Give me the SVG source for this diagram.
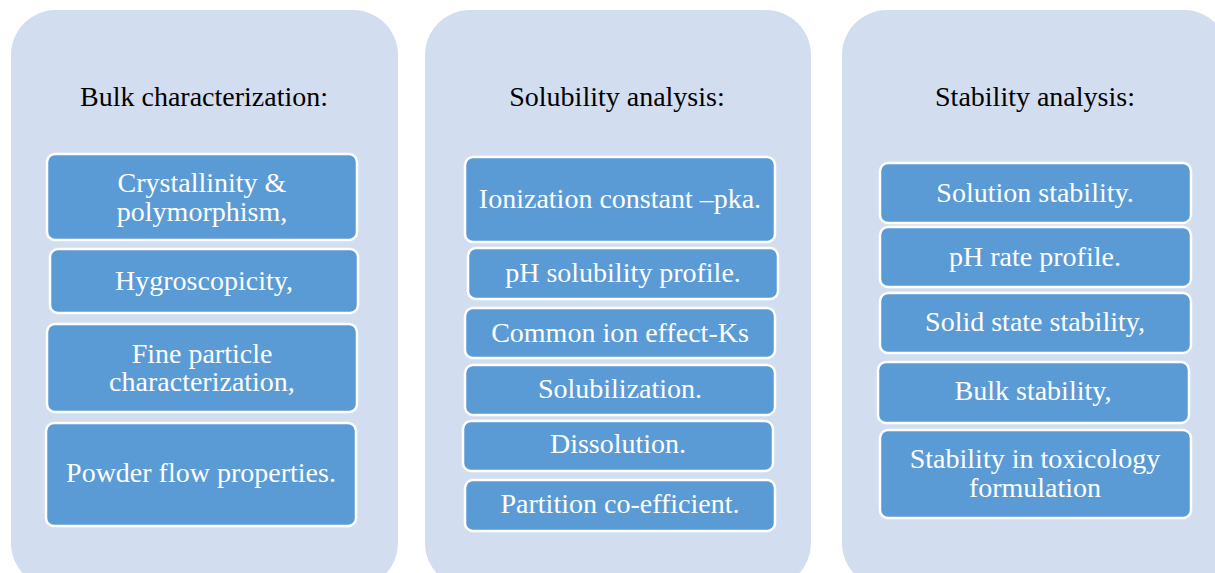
<svg xmlns="http://www.w3.org/2000/svg" width="1215" height="573" viewBox="0 0 1215 573">
<style>
.panel{fill:#D2DEEF;}
.box{fill:#5B9BD5;stroke:#FFFFFF;stroke-width:2.5;}
.title{font-family:"Liberation Serif","Times New Roman",serif;font-size:28px;fill:#000000;text-anchor:middle;}
.lbl{font-family:"Liberation Serif","Times New Roman",serif;font-size:28px;fill:#FFFFFF;text-anchor:middle;}
</style>
<rect width="1215" height="573" fill="#FFFFFF"/>
<g id="panel-bulk">
<rect class="panel" x="11" y="10" width="387" height="578" rx="45"/>
<text class="title" x="204" y="106">Bulk characterization:</text>
</g>
<g id="panel-solubility">
<rect class="panel" x="425" y="10" width="386" height="578" rx="45"/>
<text class="title" x="617" y="106">Solubility analysis:</text>
</g>
<g id="panel-stability">
<rect class="panel" x="842" y="10" width="387" height="578" rx="45"/>
<text class="title" x="1035" y="106">Stability analysis:</text>
</g>
<g id="connectors"></g>
<g id="n-crystallinity"><rect class="box" x="47" y="154" width="310" height="86" rx="8"/><text class="lbl" x="202" y="192">Crystallinity &amp;</text><text class="lbl" x="202" y="221">polymorphism,</text></g>
<g id="n-hygro"><rect class="box" x="50" y="249" width="308" height="64" rx="8"/><text class="lbl" x="204" y="290">Hygroscopicity,</text></g>
<g id="n-fine"><rect class="box" x="47" y="324" width="310" height="88" rx="8"/><text class="lbl" x="202" y="363">Fine particle</text><text class="lbl" x="202" y="391">characterization,</text></g>
<g id="n-powder"><rect class="box" x="46" y="423" width="310" height="103" rx="8"/><text class="lbl" x="201" y="482">Powder flow properties.</text></g>
<g id="n-ionization"><rect class="box" x="465" y="157" width="310" height="85" rx="8"/><text class="lbl" x="620" y="208">Ionization constant –pka.</text></g>
<g id="n-phsol"><rect class="box" x="468" y="248" width="310" height="51" rx="8"/><text class="lbl" x="623" y="282">pH solubility profile.</text></g>
<g id="n-common"><rect class="box" x="465" y="308" width="310" height="50" rx="8"/><text class="lbl" x="620" y="342">Common ion effect-Ks</text></g>
<g id="n-solubilization"><rect class="box" x="465" y="365" width="310" height="50" rx="8"/><text class="lbl" x="620" y="398">Solubilization.</text></g>
<g id="n-dissolution"><rect class="box" x="463" y="421" width="310" height="50" rx="8"/><text class="lbl" x="618" y="453">Dissolution.</text></g>
<g id="n-partition"><rect class="box" x="465" y="480" width="310" height="51" rx="8"/><text class="lbl" x="620" y="513">Partition co-efficient.</text></g>
<g id="n-solution"><rect class="box" x="880" y="163" width="311" height="60" rx="8"/><text class="lbl" x="1035" y="202">Solution stability.</text></g>
<g id="n-phrate"><rect class="box" x="880" y="227" width="311" height="60" rx="8"/><text class="lbl" x="1035" y="266">pH rate profile.</text></g>
<g id="n-solid"><rect class="box" x="880" y="293" width="311" height="60" rx="8"/><text class="lbl" x="1035" y="331">Solid state stability,</text></g>
<g id="n-bulkstab"><rect class="box" x="878" y="362" width="311" height="61" rx="8"/><text class="lbl" x="1033" y="400">Bulk stability,</text></g>
<g id="n-toxicology"><rect class="box" x="880" y="430" width="311" height="88" rx="8"/><text class="lbl" x="1035" y="468">Stability in toxicology</text><text class="lbl" x="1035" y="497">formulation</text></g>
</svg>
